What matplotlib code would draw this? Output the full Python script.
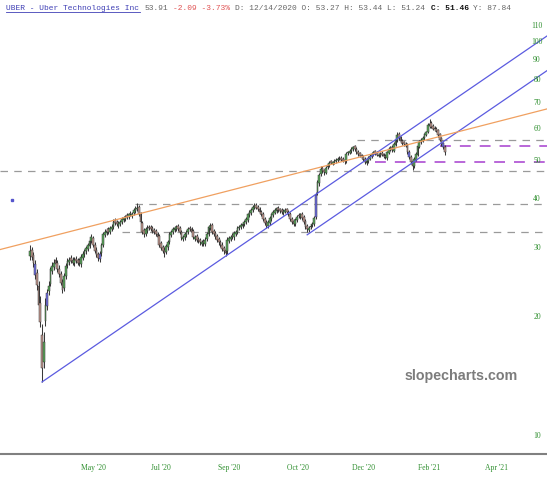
import numpy as np
import matplotlib
matplotlib.use("Agg")
import matplotlib.pyplot as plt
from matplotlib.lines import Line2D

# ---------------- data (daily bars, UBER) ----------------
opens = [
 28.6, 29.6, 28.8, 27.3, 25.9, 24.0, 21.8, 18.0, 15.4, 19.6,
 21.4, 23.3, 24.3, 26.2, 26.8, 27.9, 27.4, 26.6, 25.8, 24.6,
 23.8, 25.4, 27.1, 27.6, 28.3, 28.0, 27.4, 28.2, 27.9, 27.9,
 27.3, 28.3, 28.9, 29.4, 29.9, 30.4, 31.2, 31.8, 30.6, 29.7,
 28.9, 28.1, 29.1, 30.6, 32.3, 32.8, 33.5, 32.9, 33.6, 33.9,
 35.3, 34.9, 34.2, 34.6, 34.9, 35.4, 35.6, 36.4, 35.9, 36.9,
 36.2, 36.7, 37.3, 37.6, 38.2, 36.7, 34.8, 33.4, 32.6, 33.2,
 34.0, 33.9, 33.7, 33.4, 33.2, 32.6, 32.1, 30.8, 30.2, 29.7,
 29.3, 30.1, 31.1, 32.4, 32.9, 33.4, 33.6, 34.2, 33.7, 32.9,
 31.6, 31.9, 32.4, 32.9, 33.8, 33.6, 33.1, 31.7, 32.1, 31.6,
 31.4, 30.7, 31.2, 30.7, 31.6, 32.6, 33.8, 34.3, 33.1, 32.7,
 32.1, 31.6, 31.1, 30.6, 30.0, 29.6, 29.4, 31.3, 31.6, 32.3,
 31.9, 32.6, 32.9, 33.7, 34.0, 34.1, 34.5, 34.9, 35.4, 36.3,
 36.8, 37.4, 38.0, 38.6, 38.1, 37.7, 37.1, 36.6, 35.6, 34.9,
 34.1, 34.8, 35.6, 36.4, 36.9, 37.3, 37.9, 37.6, 37.4, 36.8,
 37.1, 37.6, 37.1, 36.6, 35.6, 35.1, 34.6, 35.4, 36.4, 36.0,
 36.6, 35.9, 35.1, 34.1, 33.4, 33.9, 34.3, 34.6, 36.0, 41.5,
 43.8, 46.2, 47.8, 47.2, 46.6, 48.1, 48.7, 49.8, 49.1, 49.6,
 49.9, 50.1, 50.9, 50.8, 50.5, 50.2, 49.9, 52.2, 52.4, 52.9,
 53.4, 54.3, 53.6, 52.6, 52.2, 51.6, 51.1, 50.6, 49.3, 49.9,
 50.6, 51.3, 51.9, 52.8, 52.4, 51.5, 51.6, 52.3, 51.9, 51.5,
 50.8, 52.4, 53.3, 54.2, 53.0, 54.8, 56.3, 58.3, 57.3, 56.2,
 55.6, 55.2, 54.8, 52.7, 51.2, 49.8, 48.4, 50.3, 51.8, 54.2,
 55.6, 56.1, 57.0, 58.1, 59.2, 61.2, 62.3, 61.2, 60.6, 60.2,
 59.7, 58.3, 56.9, 55.3, 54.2,
]
highs = [
 30.6, 30.2, 29.3, 27.9, 26.6, 24.8, 22.6, 19.2, 18.4, 22.4,
 23.6, 24.7, 26.9, 27.6, 28.1, 28.4, 27.9, 27.1, 26.2, 25.0,
 25.9, 27.4, 28.3, 28.5, 28.8, 28.4, 28.5, 28.7, 28.3, 28.3,
 28.9, 29.4, 29.9, 30.4, 30.9, 31.7, 32.6, 32.2, 31.0, 30.1,
 29.3, 29.4, 30.9, 32.9, 33.5, 33.7, 33.9, 34.1, 34.5, 35.6,
 35.7, 35.3, 35.1, 35.4, 35.9, 36.2, 36.4, 36.8, 36.9, 37.3,
 37.0, 37.9, 38.3, 39.0, 38.6, 37.1, 35.2, 33.8, 33.9, 34.3,
 34.4, 34.3, 34.1, 33.8, 33.6, 33.0, 32.5, 31.2, 30.6, 30.1,
 30.7, 31.4, 32.9, 33.4, 33.9, 34.2, 34.4, 34.6, 34.1, 33.3,
 32.4, 32.9, 33.4, 33.9, 34.2, 34.0, 33.5, 32.4, 32.5, 32.0,
 31.8, 31.4, 31.6, 31.9, 32.9, 34.4, 34.7, 34.7, 33.5, 33.1,
 32.5, 32.0, 31.5, 31.0, 30.4, 30.0, 31.9, 32.2, 32.4, 32.7,
 33.2, 33.4, 34.2, 34.4, 34.7, 35.0, 35.4, 35.9, 36.9, 37.5,
 37.9, 38.6, 39.1, 39.0, 38.5, 38.1, 37.5, 37.0, 36.0, 35.3,
 35.4, 36.2, 36.9, 37.4, 37.9, 38.2, 38.3, 38.0, 37.8, 37.6,
 37.9, 38.0, 37.5, 37.0, 36.0, 35.5, 35.7, 36.4, 36.8, 36.9,
 37.0, 36.3, 35.5, 34.5, 34.2, 34.6, 34.9, 36.2, 41.6, 44.6,
 46.6, 48.3, 48.4, 47.7, 48.5, 49.3, 49.8, 50.3, 50.0, 50.5,
 50.8, 51.1, 51.4, 51.3, 51.0, 50.7, 52.5, 53.0, 53.5, 54.0,
 54.6, 54.8, 54.1, 53.1, 52.7, 52.1, 51.6, 51.1, 50.5, 51.3,
 52.0, 52.5, 53.0, 53.3, 52.9, 52.3, 52.5, 52.8, 52.4, 52.0,
 53.0, 54.0, 54.6, 54.7, 55.6, 57.1, 59.2, 59.0, 57.8, 56.7,
 56.1, 55.7, 55.3, 53.2, 51.7, 50.3, 51.0, 52.6, 55.1, 56.4,
 56.9, 57.8, 58.9, 59.6, 62.2, 63.6, 63.0, 61.8, 61.2, 60.8,
 60.2, 58.8, 57.4, 55.8, 54.7,
]
lows = [
 28.0, 28.0, 26.9, 25.1, 23.5, 20.9, 18.9, 13.7, 14.9, 19.0,
 20.9, 22.8, 24.0, 25.8, 26.4, 26.9, 26.1, 25.3, 24.1, 23.0,
 23.4, 25.1, 26.7, 27.2, 27.4, 27.1, 27.0, 27.4, 27.1, 27.0,
 26.9, 27.9, 28.5, 29.0, 29.5, 30.0, 30.8, 30.1, 29.1, 28.4,
 27.8, 27.7, 28.7, 30.2, 31.9, 32.4, 32.6, 32.5, 33.2, 33.5,
 34.3, 34.1, 33.8, 34.2, 34.5, 35.0, 35.2, 35.6, 35.5, 36.1,
 35.8, 36.3, 36.9, 37.2, 36.1, 34.6, 32.6, 32.0, 32.2, 32.8,
 33.3, 33.1, 32.8, 32.6, 32.1, 31.6, 30.1, 29.6, 29.1, 28.5,
 28.9, 29.7, 30.7, 32.0, 32.5, 33.0, 33.2, 33.1, 32.6, 31.4,
 31.2, 31.5, 32.0, 32.5, 33.1, 32.6, 31.6, 31.3, 31.1, 30.8,
 30.6, 30.3, 30.4, 30.3, 31.2, 32.2, 33.4, 32.6, 32.1, 31.6,
 31.1, 30.6, 30.1, 29.4, 29.0, 28.6, 29.0, 30.9, 31.2, 31.6,
 31.5, 32.2, 32.5, 33.3, 33.6, 33.7, 34.1, 34.5, 35.0, 35.9,
 36.4, 37.0, 37.6, 37.6, 37.2, 36.6, 36.1, 35.1, 34.4, 33.7,
 33.7, 34.4, 35.2, 36.0, 36.5, 36.9, 37.1, 36.9, 36.6, 36.4,
 36.7, 36.6, 36.1, 35.1, 34.6, 34.1, 34.2, 35.0, 35.8, 35.6,
 35.4, 34.6, 33.6, 33.0, 33.0, 33.5, 33.9, 34.2, 35.6, 41.0,
 43.2, 45.7, 46.5, 46.0, 46.1, 47.6, 48.2, 48.9, 48.6, 49.1,
 49.4, 49.6, 50.2, 49.8, 49.5, 49.0, 49.4, 51.7, 51.9, 52.4,
 52.9, 53.0, 52.0, 51.5, 51.0, 50.5, 50.0, 49.0, 48.7, 49.4,
 50.1, 50.8, 51.4, 51.8, 51.3, 51.0, 51.1, 51.3, 50.8, 50.4,
 50.3, 51.9, 52.8, 52.7, 52.5, 54.3, 55.8, 56.5, 55.5, 54.8,
 54.5, 54.1, 52.0, 50.5, 49.0, 47.4, 47.9, 49.8, 51.3, 53.7,
 55.1, 55.6, 56.5, 57.6, 58.7, 60.6, 60.4, 59.8, 59.4, 59.0,
 57.5, 56.0, 54.5, 53.5, 51.6,
]
closes = [
 29.4, 28.5, 27.5, 25.6, 24.2, 21.5, 19.5, 14.9, 17.3, 21.5,
 23.0, 24.0, 26.5, 27.0, 27.5, 27.3, 26.5, 25.7, 24.5, 23.5,
 25.5, 27.0, 27.8, 28.0, 27.8, 27.5, 28.0, 27.8, 27.5, 27.4,
 28.5, 29.0, 29.5, 30.0, 30.5, 31.3, 32.0, 30.5, 29.5, 28.8,
 28.3, 29.0, 30.5, 32.5, 33.0, 33.2, 33.0, 33.7, 34.0, 35.0,
 34.8, 34.5, 34.7, 35.0, 35.5, 35.8, 36.0, 36.0, 36.5, 36.5,
 36.6, 37.5, 37.8, 38.0, 36.5, 35.0, 33.0, 32.5, 33.5, 33.8,
 33.7, 33.5, 33.2, 33.0, 32.5, 32.0, 30.5, 30.0, 29.5, 29.2,
 30.3, 31.0, 32.5, 33.0, 33.5, 33.8, 34.0, 33.5, 33.0, 31.8,
 32.0, 32.5, 33.0, 33.5, 33.5, 33.0, 32.0, 32.0, 31.5, 31.2,
 31.0, 31.0, 30.8, 31.5, 32.5, 34.0, 34.2, 33.0, 32.5, 32.0,
 31.5, 31.0, 30.5, 29.8, 29.4, 29.2, 31.5, 31.8, 32.0, 32.0,
 32.8, 33.0, 33.8, 34.0, 34.3, 34.6, 35.0, 35.5, 36.5, 37.0,
 37.5, 38.2, 38.5, 38.0, 37.6, 37.0, 36.5, 35.5, 34.8, 34.2,
 35.0, 35.8, 36.5, 37.0, 37.5, 37.8, 37.5, 37.3, 37.0, 37.2,
 37.5, 37.0, 36.5, 35.5, 35.0, 34.5, 35.3, 36.0, 36.2, 36.5,
 35.8, 35.0, 34.0, 33.5, 33.8, 34.2, 34.5, 35.8, 41.0, 44.0,
 46.0, 47.5, 47.0, 46.7, 48.0, 48.8, 49.3, 49.4, 49.5, 50.0,
 50.3, 50.6, 50.7, 50.3, 50.0, 49.8, 52.0, 52.5, 53.0, 53.5,
 54.0, 53.5, 52.5, 52.0, 51.5, 51.0, 50.5, 49.5, 50.0, 50.8,
 51.5, 52.0, 52.5, 52.3, 51.8, 51.8, 52.0, 51.8, 51.3, 51.0,
 52.5, 53.5, 54.0, 53.2, 55.0, 56.5, 58.0, 57.0, 56.0, 55.3,
 55.0, 54.6, 52.5, 51.0, 49.5, 48.5, 50.5, 52.0, 54.5, 55.8,
 56.3, 57.2, 58.3, 59.0, 61.5, 62.0, 61.0, 60.3, 60.0, 59.5,
 58.0, 56.5, 55.0, 54.0, 52.5,
]
blue_bars = [3, 10, 41, 168, 223, 243]          # bars drawn in blue

date_labels = ["May '20", "Jul '20", "Sep '20", "Oct '20", "Dec '20", "Feb '21", "Apr '21"]
date_ticks = [37, 77, 117, 157.6, 196.4, 235, 274.6]   # bar index of each label
price_ticks = [10, 20, 30, 40, 50, 60, 70, 80, 90, 100, 110]

# drawn trend lines: (bar0, price0, bar1, price1), extended to the right
channel_lines = [(7, 13.71, 244, 68.8), (163, 32.4, 244, 56.2)]
orange_line = (0, 31.1, 244, 58.0)
# horizontal dashed levels: (price, first bar, colour)
levels = [(47.1, -18, "#9a9a9a"), (38.8, 61.7, "#9a9a9a"), (33.0, 54, "#9a9a9a"),
          (56.4, 192.3, "#9a9a9a"), (54.4, 241, "#b35ad6"), (49.6, 202.9, "#b35ad6")]
marker_pt = (-10.6, 39.7)

# ---------------- figure ----------------
W, H = 547, 480
fig = plt.figure(figsize=(W / 100, H / 100), dpi=100)
ax = fig.add_axes([0, 26 / H, 1, 454 / H])
ax.set_yscale("log")
XL = (-17.7, 304.1)
ax.set_xlim(*XL)
ax.set_ylim(9.0, 127.8)
for s in ["top", "left", "right"]:
    ax.spines[s].set_visible(False)
ax.spines["bottom"].set_color("#808080")
ax.spines["bottom"].set_linewidth(1.5)
ax.yaxis.set_visible(False)
ax.minorticks_off()

x = np.arange(len(closes))
o = np.array(opens); c = np.array(closes); h = np.array(highs); l = np.array(lows)
cols = np.where(c >= o, "#5aa85a", "#c49a90").astype(object)
for b in blue_bars:
    cols[b] = "#6f6fe6"
ax.vlines(x, l, h, color="#3a3a3a", lw=0.75, zorder=3)
bot = np.minimum(o, c); top = np.maximum(o, c)
top = np.where(top - bot < 0.12, bot + 0.12, top)
ax.bar(x, top - bot, bottom=bot, width=1.0, color=list(cols), edgecolor="#333333",
       linewidth=0.35, zorder=4)

def ext(line, x0, x1):
    a0, p0, a1, p1 = line
    sl = (np.log10(p1) - np.log10(p0)) / (a1 - a0)
    xs = np.array([x0, x1])
    return xs, 10 ** (np.log10(p0) + sl * (xs - a0))

for ln in channel_lines:
    xs, ys = ext(ln, ln[0], XL[1])
    ax.plot(xs, ys, color="#5b5be0", lw=0.9, zorder=5)
xs, ys = ext(orange_line, XL[0], XL[1])
ax.plot(xs, ys, color="#f0a060", lw=0.9, zorder=5)

for p, x0, col in levels:
    lw = 1.3 if col != "#9a9a9a" else 0.9
    ax.plot([max(x0, XL[0]), XL[1]], [p, p], color=col, lw=lw, ls=(0, (6, 5)), zorder=2)

ax.plot([marker_pt[0]], [marker_pt[1]], marker="s", ms=1.6, color="#5555cc", ls="none")

# price labels (right)
for p in price_ticks:
    ax.text(537 / W, p, str(p), transform=ax.get_yaxis_transform(), ha="center", va="center",
            fontsize=5.5, family="Liberation Serif", color="#2f8f2f", zorder=6)

ax.set_xticks(date_ticks)
ax.set_xticklabels(date_labels, fontsize=5.5, family="Liberation Serif", color="#2f8f2f")
ax.tick_params(axis="x", length=0, pad=7)

# watermark
ax.text(461 / W, 1 - 376 / 454, "slopecharts.com", transform=ax.transAxes,
        ha="center", va="center", fontsize=10.3, fontweight="bold", color="#7c7c7c",
        family="Liberation Sans", zorder=1)

# header
cw = 4.77
y0 = 1 - 8 / H
parts = [("UBER - Uber Technologies Inc", 0, "#3f3fb5", "normal"),
         ("53.91", 29, "#666666", "normal"),
         ("-2.09 -3.73%", 35, "#e05252", "normal"),
         ("D: 12/14/2020 O: 53.27 H: 53.44 L: 51.24", 48, "#666666", "normal"),
         ("C: 51.46", 89, "#111111", "bold"),
         ("Y: 87.84", 98, "#666666", "normal")]
for txt, n, col, wt in parts:
    fig.text((6 + n * cw) / W, y0, txt, ha="left", va="center", fontsize=5.7,
             family="Liberation Mono", color=col, fontweight=wt)
fig.add_artist(Line2D([6 / W, (6 + 28 * cw) / W], [1 - 12 / H, 1 - 12 / H],
                      color="#3f3fb5", lw=0.6, transform=fig.transFigure))

fig.savefig("out.png", dpi=100)
